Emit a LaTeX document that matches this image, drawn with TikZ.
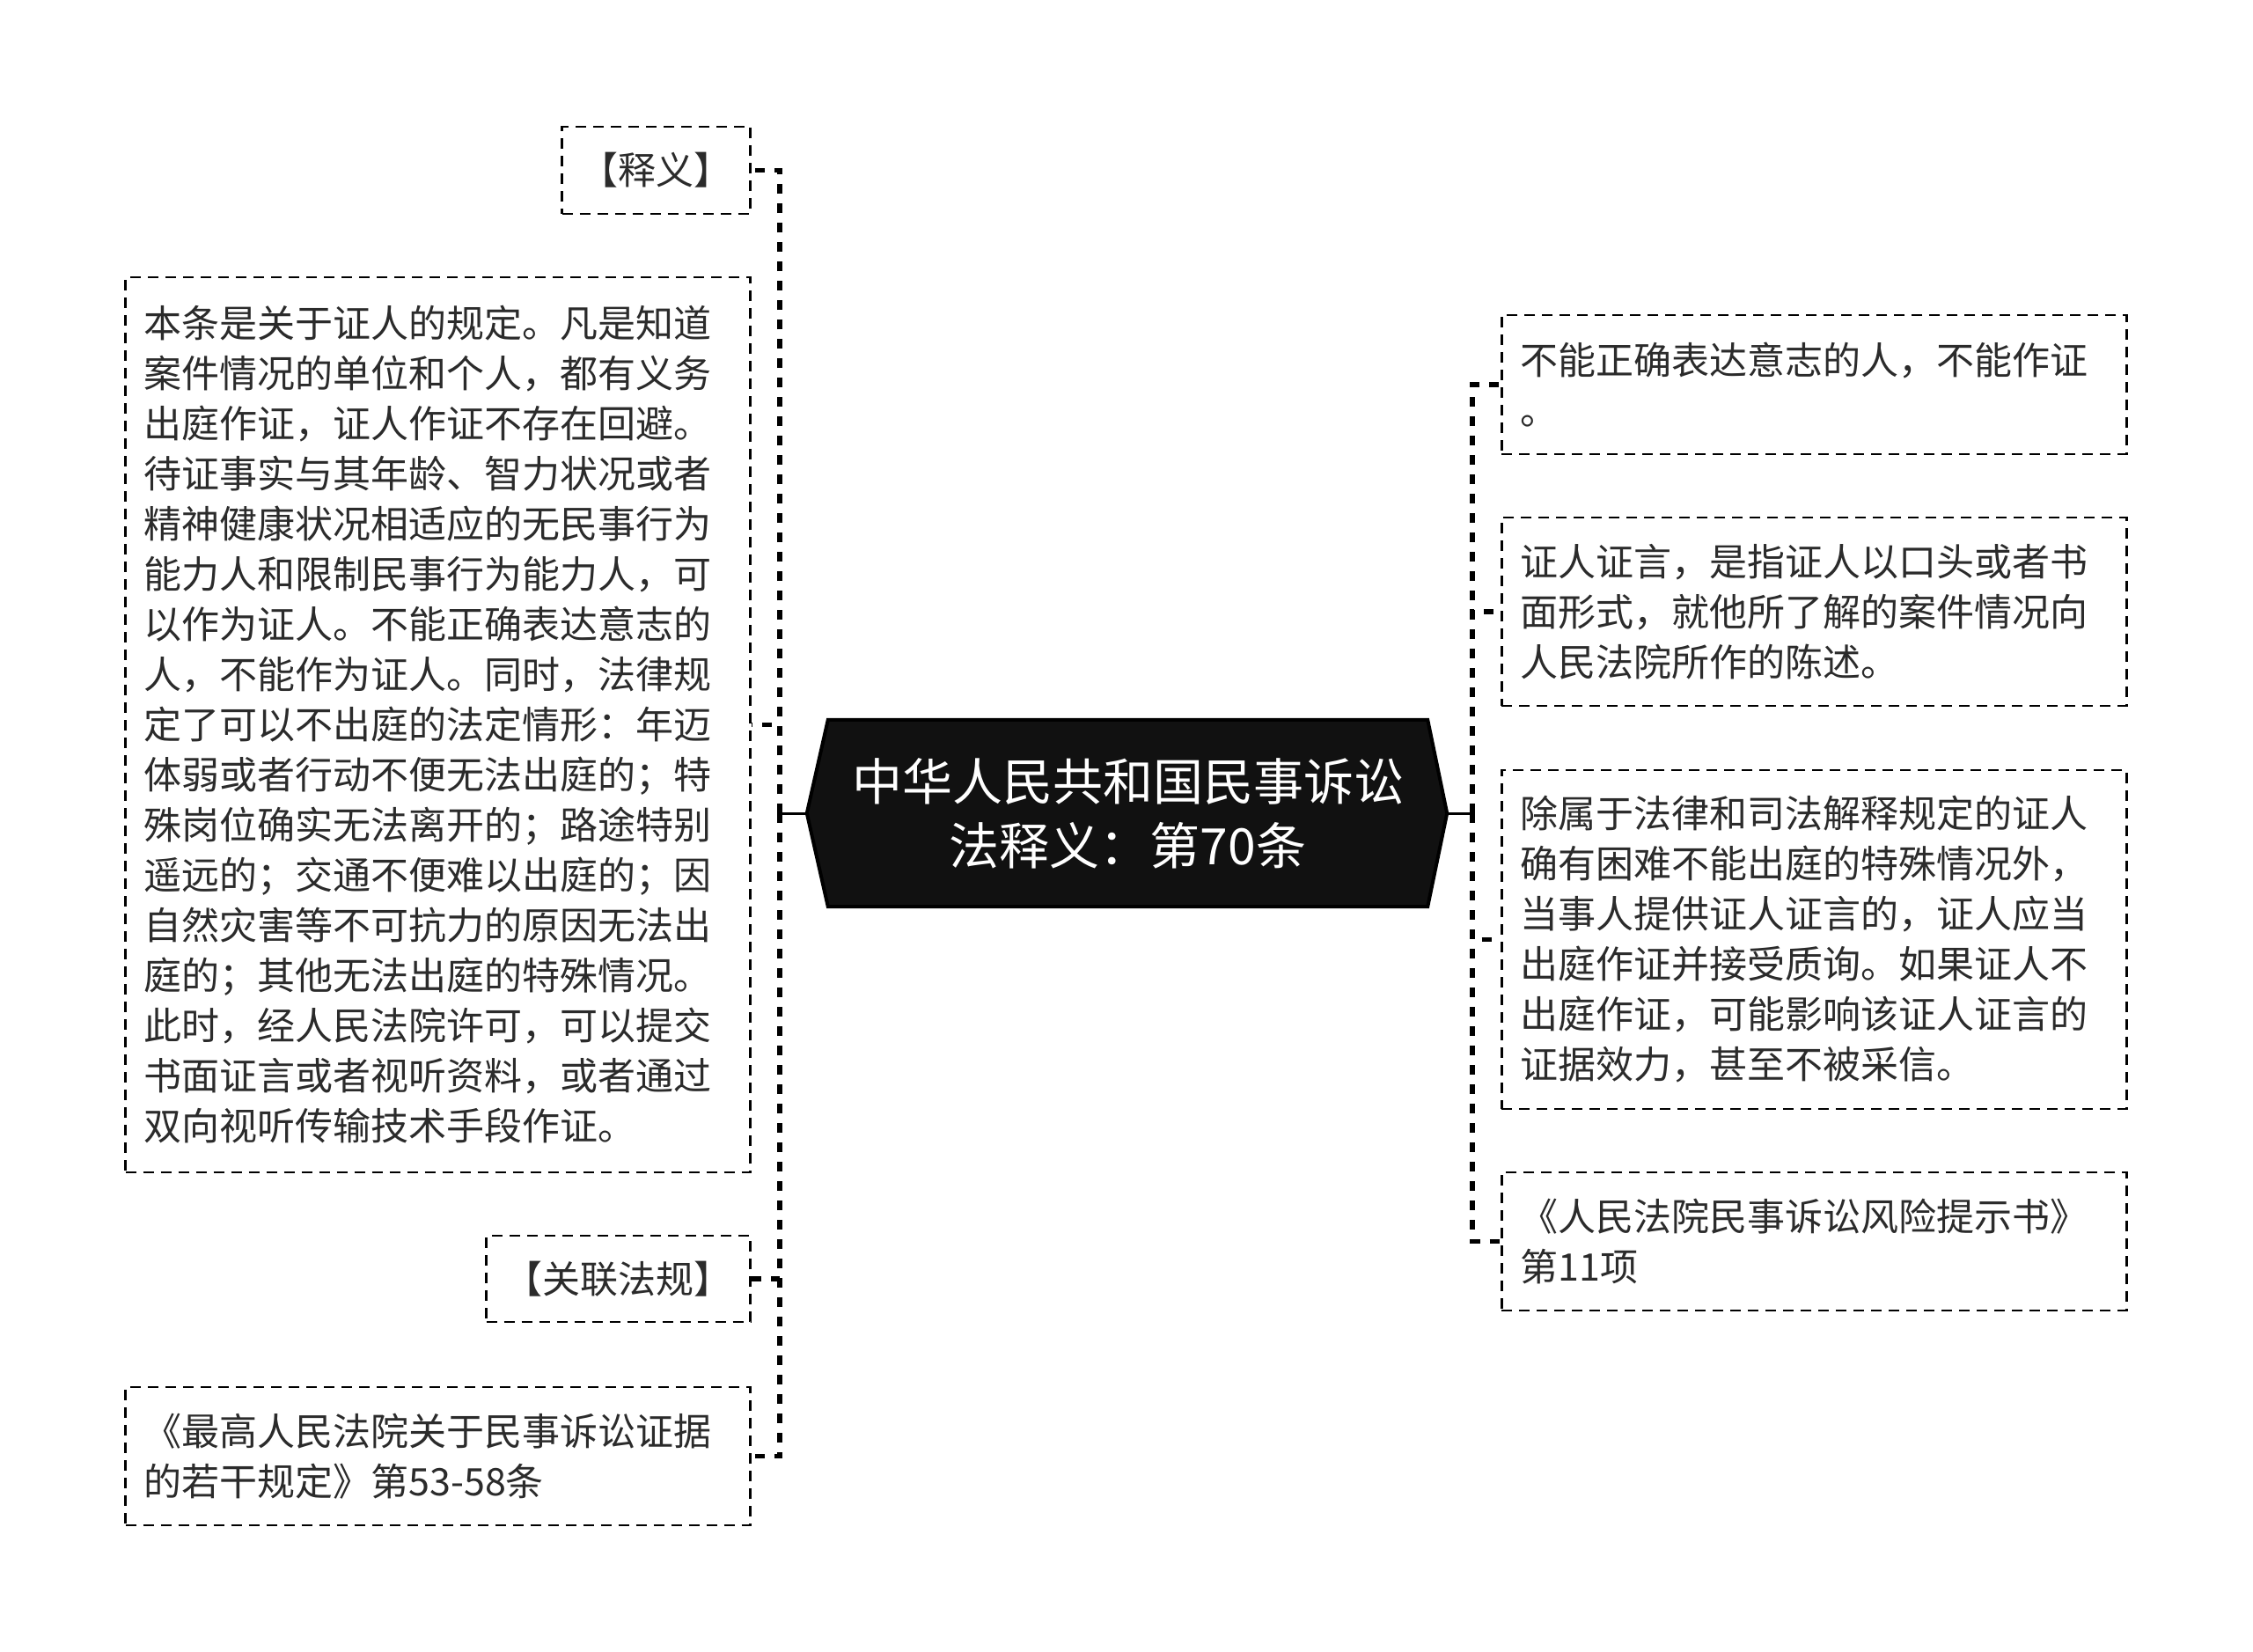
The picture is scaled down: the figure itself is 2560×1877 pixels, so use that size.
\documentclass[tikz,border=0pt]{standalone}
\usepackage{fontspec}
\setmainfont{Noto Sans CJK SC}
\definecolor{txt}{HTML}{2B2B2B}
\definecolor{rootfill}{HTML}{111111}
\begin{document}
\begin{tikzpicture}[x=1pt,y=-1pt,
  box/.style={draw=black, line width=2.8pt, dash pattern=on 12pt off 8pt, inner xsep=21pt, inner ysep=0pt, align=left, text=txt, font=\fontsize{43pt}{57pt}\selectfont},
  wide/.style={text width=668pt},
  trunk/.style={line width=5.5pt, dash pattern=on 11pt off 11pt},
  stem/.style={line width=3pt},
  rootbox/.style={inner sep=0pt, minimum width=681pt, minimum height=212pt, align=center, text=white, font=\fontsize{57pt}{73pt}\selectfont}]
\useasboundingbox[fill=white] (0,0) rectangle (2560,1877);

% root
\node[rootbox] (root) at (1281.5,924) {};
\coordinate (rootL) at ([xshift=-24pt]root.west);
\coordinate (rootR) at ([xshift=22pt]root.east);
\draw[fill=rootfill, line width=4pt, line join=miter] (root.north west) -- (root.north east) -- (rootR) -- (root.south east) -- (root.south west) -- (rootL) -- cycle;
\node[rootbox] (roottext) at (root.center) {中华人民共和国民事诉讼\\法释义：第70条};

% left boxes
\node[box, anchor=east, minimum height=99pt] (shiyi) at (854,193.5) {【释义】};
\node[box, wide, anchor=east, minimum height=1017pt] (big) at (854,823.5) {本条是关于证人的规定。凡是知道\\案件情况的单位和个人，都有义务\\出庭作证，证人作证不存在回避。\\待证事实与其年龄、智力状况或者\\精神健康状况相适应的无民事行为\\能力人和限制民事行为能力人，可\\以作为证人。不能正确表达意志的\\人，不能作为证人。同时，法律规\\定了可以不出庭的法定情形：年迈\\体弱或者行动不便无法出庭的；特\\殊岗位确实无法离开的；路途特别\\遥远的；交通不便难以出庭的；因\\自然灾害等不可抗力的原因无法出\\庭的；其他无法出庭的特殊情况。\\此时，经人民法院许可，可以提交\\书面证言或者视听资料，或者通过\\双向视听传输技术手段作证。};
\node[box, anchor=east, minimum height=98pt] (guanlian) at (854,1453) {【关联法规】};
\node[box, wide, anchor=east, minimum height=157pt] (zuigao) at (854,1654.5) {《最高人民法院关于民事诉讼证据\\的若干规定》第53-58条};

% right boxes
\node[box, wide, anchor=west, minimum height=158pt] (r1) at (1705,437) {不能正确表达意志的人，不能作证\\。};
\node[box, wide, anchor=west, minimum height=214pt] (r2) at (1705,695) {证人证言，是指证人以口头或者书\\面形式，就他所了解的案件情况向\\人民法院所作的陈述。};
\node[box, wide, anchor=west, minimum height=385pt] (r3) at (1705,1067.5) {除属于法律和司法解释规定的证人\\确有困难不能出庭的特殊情况外，\\当事人提供证人证言的，证人应当\\出庭作证并接受质询。如果证人不\\出庭作证，可能影响该证人证言的\\证据效力，甚至不被采信。};
\node[box, wide, anchor=west, minimum height=157pt] (r4) at (1705,1410.5) {《人民法院民事诉讼风险提示书》\\第11项};

% connectors
\coordinate (tL) at (886,924);
\coordinate (tR) at (1673,924);
\draw[stem] (rootL) -- (tL);
\draw[stem] (rootR) -- (tR);
\foreach \n in {shiyi,big,guanlian,zuigao}{
  \draw[trunk] (tL) |- (\n.east);
}
\foreach \n in {r1,r2,r3,r4}{
  \draw[trunk] (tR) |- (\n.west);
}
\end{tikzpicture}
\end{document}
